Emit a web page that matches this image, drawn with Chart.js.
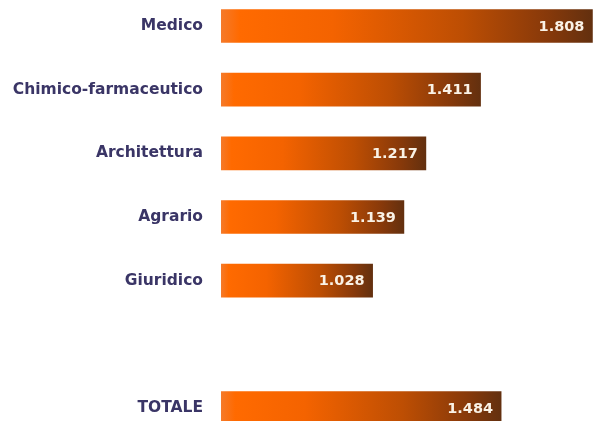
<!DOCTYPE html>
<html>
<head>
<meta charset="utf-8">
<script src="https://cdn.jsdelivr.net/npm/chart.js@4/dist/chart.umd.min.js"></script>
<style>
  html, body { margin: 0; padding: 0; background: #ffffff; overflow: hidden; }
  .chart-wrap { position: relative; width: 593px; height: 421px; }
</style>
</head>
<body>
<div class="chart-wrap"><canvas id="facoltaChart"></canvas></div>
<script>
const categories = ['Medico', 'Chimico-farmaceutico', 'Architettura', 'Agrario', 'Giuridico', '', 'TOTALE'];
const values = [1808, 1411, 1217, 1139, 1028, null, 1484];
const axisMin = 490;
const axisMax = 1810;

function formatIt(v) {
    return String(v).replace(/\B(?=(\d{3})+(?!\d))/g, '.');
}

document.addEventListener("DOMContentLoaded", () => {
    const barGradient = (context) => {
        const chart = context.chart;
        const { ctx, scales, chartArea } = chart;
        if (!chartArea || context.type !== 'data' || values[context.dataIndex] == null) {
            return '#ff6600';
        }
        const x0 = scales.x.getPixelForValue(axisMin);
        const x1 = scales.x.getPixelForValue(values[context.dataIndex]);
        const g = ctx.createLinearGradient(x0, 0, x1, 0);
        g.addColorStop(0, '#f57a2a');
        g.addColorStop(0.05, '#ff6a00');
        g.addColorStop(0.3, '#f46300');
        g.addColorStop(0.65, '#bd4e03');
        g.addColorStop(0.88, '#87390a');
        g.addColorStop(1, '#63300f');
        return g;
    };

    // values written inside the right end of each bar
    const valueLabels = {
        id: 'valueLabels',
        afterDatasetsDraw(chart) {
            const ctx = chart.ctx;
            const meta = chart.getDatasetMeta(0);
            ctx.save();
            ctx.font = 'bold 14.5px "DejaVu Sans"';
            ctx.fillStyle = '#faf2e6';
            ctx.textAlign = 'right';
            ctx.textBaseline = 'middle';
            meta.data.forEach((bar, i) => {
                if (values[i] == null) return;
                ctx.fillText(formatIt(values[i]), bar.x - 8, bar.y + 1);
            });
            ctx.restore();
        }
    };

    const ctxBars = document.getElementById('facoltaChart').getContext('2d');
    new Chart(ctxBars, {
        type: 'bar',
        data: {
            labels: categories,
            datasets: [{
                data: values,
                backgroundColor: barGradient,
                borderWidth: 0,
                barThickness: 33,
                clip: { left: 0, top: 20, right: 2, bottom: 20 }
            }]
        },
        options: {
            indexAxis: 'y',
            responsive: true,
            maintainAspectRatio: false,
            animation: false,
            layout: {
                padding: { left: 0, right: 0, top: 26, bottom: 13 }
            },
            scales: {
                x: {
                    display: false,
                    min: axisMin,
                    max: axisMax
                },
                y: {
                    offset: false,
                    grid: { display: false, drawTicks: false },
                    border: { display: false },
                    ticks: {
                        color: '#3a3566',
                        padding: 18,
                        font: { family: '"DejaVu Sans"', weight: 'bold', size: 15.5 }
                    },
                    afterFit(scale) {
                        scale.width = 221;
                        scale.paddingTop = 0;
                        scale.paddingBottom = 0;
                    }
                }
            },
            plugins: {
                legend: { display: false },
                tooltip: { enabled: false }
            }
        },
        plugins: [valueLabels]
    });
});
</script>
</body>
</html>
